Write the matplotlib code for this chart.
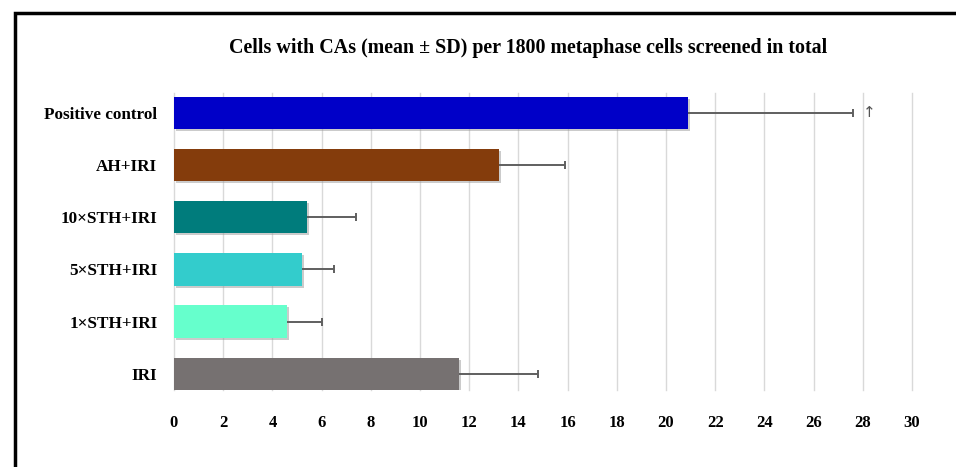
import matplotlib.pyplot as plt
import matplotlib.patheffects as pe
from matplotlib.patches import Rectangle

# data
groups = ['IRI', '1×STH+IRI', '5×STH+IRI', '10×STH+IRI', 'AH+IRI', 'Positive control']
means = [11.6, 4.6, 5.2, 5.4, 13.2, 20.9]
sds = [3.2, 1.4, 1.3, 2.0, 2.7, 6.7]
colors = ['#767171', '#66FFCC', '#33CCCC', '#007C7C', '#843C0C', '#0000C8']
xticks = list(range(0, 32, 2))
title = 'Cells with CAs (mean ± SD) per 1800 metaphase cells screened in total'

serif = ['Liberation Serif', 'DejaVu Serif']

fig = plt.figure(figsize=(9.56, 4.67), dpi=100)
ax = fig.add_axes([0.182, 0.165, 0.772, 0.636])

ypos = list(range(len(groups)))
shadow = [pe.SimplePatchShadow(offset=(1.5, -1.5), shadow_rgbFace='#999999', alpha=0.5), pe.Normal()]
bars = ax.barh(ypos, means, height=0.62, color=colors, zorder=3)
for b in bars:
    b.set_path_effects(shadow)

# one-sided error bars: line from the bar end, cap only at the far end
ends = [m + s for m, s in zip(means, sds)]
ax.errorbar(means, ypos, xerr=[[0] * len(sds), sds], fmt='none', ecolor='#5f5f5f',
            elinewidth=1.4, capsize=0, zorder=4)
ax.plot(ends, ypos, linestyle='none', marker='|', markersize=6, markeredgewidth=1.4,
        color='#5f5f5f', zorder=4)

# marker next to the positive control error bar
top = len(groups) - 1
ax.text(ends[top] + 0.65, top, '↑', ha='center', va='center',
        fontsize=11, color='#555555', family=['DejaVu Sans'])

ax.set_xlim(0, 30)
ax.set_ylim(-0.31, 5.38)
ax.set_xticks(xticks)
ax.set_xticklabels([str(t) for t in xticks], family=serif, fontweight='bold', fontsize=12)
ax.set_yticks(ypos)
ax.set_yticklabels(groups, family=serif, fontweight='bold', fontsize=12.3)
ax.tick_params(axis='both', length=0)
ax.tick_params(axis='x', pad=18)
ax.tick_params(axis='y', pad=12)
ax.grid(axis='x', color='#d9d9d9', linewidth=1, zorder=0)
for gl in ax.xaxis.get_gridlines():
    gl.set_clip_on(False)
ax.set_axisbelow(True)
for s in ax.spines.values():
    s.set_visible(False)

fig.text(0.552, 0.897, title, ha='center', va='center', family=serif,
         fontweight='bold', fontsize=14.4)

# outer frame (runs off the right and bottom edge)
fig.patches.append(Rectangle((15 / 956, -0.1), 1.2, (467 - 13) / 467 + 0.1,
                             transform=fig.transFigure, fill=False,
                             edgecolor='black', linewidth=2.5))

fig.savefig('out.png', dpi=100)
